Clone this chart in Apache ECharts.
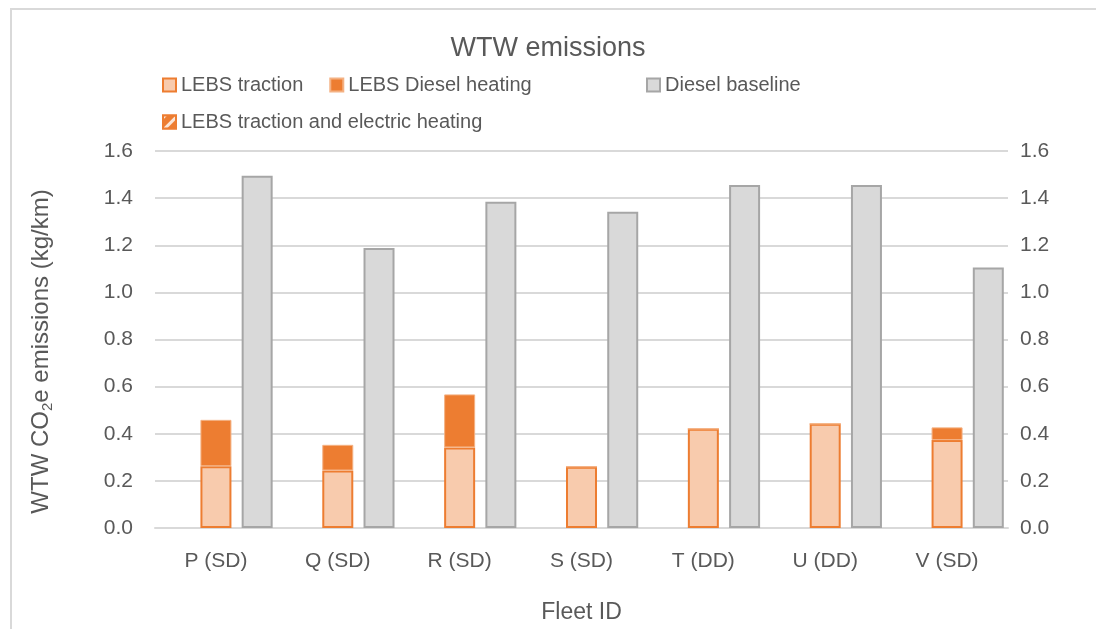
<!DOCTYPE html>
<html>
<head>
<meta charset="utf-8">
<script src="https://cdn.jsdelivr.net/npm/echarts@6/dist/echarts.min.js"></script>
<style>
  html, body { margin: 0; padding: 0; background: #fff; }
  #chart { width: 1096px; height: 629px; }
</style>
</head>
<body>
<div id="chart"></div>
<script>
// Fleet categories and WTW CO2e emissions (kg/km)
const fleets = ['P (SD)', 'Q (SD)', 'R (SD)', 'S (SD)', 'T (DD)', 'U (DD)', 'V (SD)'];
const lebsTraction = [0.262, 0.244, 0.342, 0.260, 0.421, 0.442, 0.373];
const lebsDieselHeating = [0.197, 0.109, 0.225, 0, 0, 0, 0.054];
const lebsElectricHeating = [null, null, null, null, null, null, null];
const dieselBaseline = [1.495, 1.188, 1.385, 1.342, 1.456, 1.456, 1.106];
const yTicks = ['0.0', '0.2', '0.4', '0.6', '0.8', '1.0', '1.2', '1.4', '1.6'];

const FONT = 'Liberation Sans';
const TXT = '#595959';
const GRID = '#d9d9d9';

const chart = echarts.init(document.getElementById('chart'), null, { renderer: 'canvas' });

const yAxisBase = {
  type: 'value',
  min: 0,
  max: 1.6,
  interval: 0.2,
  axisLine: { show: false },
  axisTick: { show: false },
  splitLine: { show: true, lineStyle: { color: GRID, width: 2 } },
  axisLabel: {
    color: TXT,
    fontFamily: FONT,
    fontSize: 21,
    formatter: v => yTicks[Math.round(v / 0.2)]
  }
};

const legendText = { color: TXT, fontFamily: FONT, fontSize: 20 };

chart.setOption({
  animation: false,
  backgroundColor: '#ffffff',
  textStyle: { fontFamily: FONT },
  graphic: [{
    type: 'rect',
    shape: { x: 11, y: 9, width: 1100, height: 640 },
    style: { fill: 'none', stroke: '#d9d9d9', lineWidth: 2 },
    silent: true,
    z: -10
  }],
  title: {
    text: 'WTW emissions',
    left: 'center',
    top: 30,
    textStyle: { color: TXT, fontFamily: FONT, fontSize: 27, fontWeight: 'normal' }
  },
  legend: [
    {
      data: ['LEBS traction', 'LEBS Diesel heating'],
      left: 157, top: 70,
      icon: 'rect',
      itemWidth: 13, itemHeight: 13, itemGap: 26,
      textStyle: legendText
    },
    {
      data: ['Diesel baseline'],
      left: 641, top: 70,
      icon: 'rect',
      itemWidth: 13, itemHeight: 13,
      textStyle: legendText
    },
    {
      data: ['LEBS traction and electric heating'],
      left: 157, top: 107,
      icon: 'rect',
      itemWidth: 13, itemHeight: 13,
      textStyle: legendText
    }
  ],
  grid: { left: 155, right: 88, top: 151, bottom: 100 },
  xAxis: {
    type: 'category',
    data: fleets,
    name: 'Fleet ID',
    nameLocation: 'middle',
    nameGap: 73,
    nameTextStyle: { color: TXT, fontFamily: FONT, fontSize: 23 },
    axisLine: { show: true, lineStyle: { color: GRID, width: 2 } },
    axisTick: { show: false },
    axisLabel: { color: TXT, fontFamily: FONT, fontSize: 21, margin: 23 }
  },
  yAxis: [
    Object.assign({}, yAxisBase, {
      position: 'left',
      name: 'WTW CO{sub|2}e emissions (kg/km)',
      nameLocation: 'middle',
      nameGap: 100,
      nameRotate: 90,
      nameTextStyle: {
        color: TXT, fontFamily: FONT, fontSize: 24,
        padding: [0, 24, 0, 0],
        rich: {
          sub: { fontSize: 15, color: TXT, fontFamily: FONT, verticalAlign: 'bottom', padding: [12, 0, 0, 0] }
        }
      },
      axisLabel: Object.assign({}, yAxisBase.axisLabel, { margin: 22 })
    }),
    Object.assign({}, yAxisBase, {
      position: 'right',
      splitLine: { show: false },
      axisLabel: Object.assign({}, yAxisBase.axisLabel, { margin: 12 })
    })
  ],
  series: [
    {
      name: 'LEBS traction and electric heating',
      type: 'bar',
      barWidth: 31,
      barGap: '33%',
      data: lebsElectricHeating,
      itemStyle: {
        color: '#ED7D31',
        borderColor: '#ED7D31',
        borderWidth: 2,
        decal: {
          symbol: 'rect',
          color: '#FBE5D6',
          dashArrayX: [1, 0],
          dashArrayY: [3, 6],
          rotation: -Math.PI / 4
        }
      }
    },
    {
      name: 'LEBS traction',
      type: 'bar',
      stack: 'lebs',
      barWidth: 31,
      barGap: '33%',
      data: lebsTraction,
      itemStyle: { color: '#F8CBAD', borderColor: '#ED7D31', borderWidth: 2 }
    },
    {
      name: 'LEBS Diesel heating',
      type: 'bar',
      stack: 'lebs',
      barWidth: 31,
      barGap: '33%',
      data: lebsDieselHeating,
      itemStyle: { color: '#ED7D31', borderColor: '#F4B183', borderWidth: 1 }
    },
    {
      name: 'Diesel baseline',
      type: 'bar',
      yAxisIndex: 1,
      barWidth: 31,
      barGap: '33%',
      data: dieselBaseline,
      itemStyle: { color: '#D9D9D9', borderColor: '#A6A6A6', borderWidth: 2 }
    }
  ]
});
</script>
</body>
</html>
